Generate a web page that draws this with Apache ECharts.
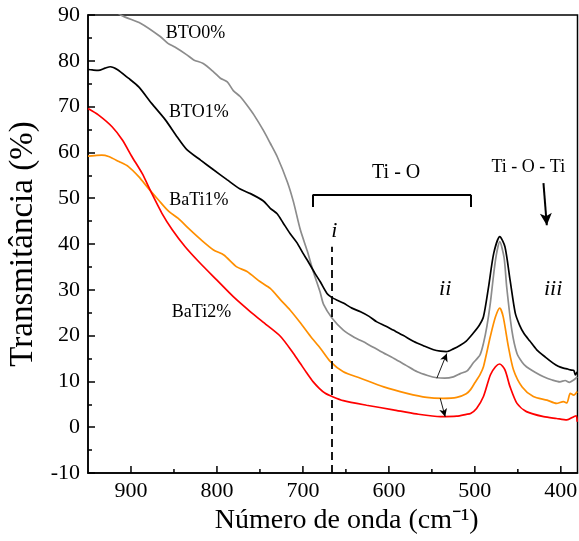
<!DOCTYPE html>
<html><head><meta charset="utf-8">
<script src="https://cdn.jsdelivr.net/npm/echarts@6/dist/echarts.min.js"></script>
<style>html,body{margin:0;padding:0;background:#fff}#c{width:579px;height:541px}</style>
</head><body><div id="c"></div>
<script>
// ---- data: [wavenumber (cm-1), transmittance (%)] ----
const bto0 = [[950,96],[930,93],[912,90],[889,88.2],[866,85.3],[857,83.8],[849,83.0],[835,81.3],[827,80.2],[816,79.4],[804,77.6],[796,76.2],[788,75.4],[781,73.5],[773,72.2],[765,70.3],[757,68.2],[746,64.8],[738,62],[730,59.1],[718,53.5],[711,49.2],[703,43.1],[695,38.5],[688,34],[680,29.5],[676,26.8],[666,23.8],[653,21.2],[640,19.6],[626,18.3],[610,16.6],[594,15.0],[580,13.5],[567,12.1],[555,11.3],[544,10.8],[535,10.7],[525,11.0],[517,11.7],[509,12.3],[502,14.0],[494,15.8],[490,18.3],[486,22],[482,27.1],[476,36.5],[471,40.5],[466,37],[463,30.7],[457,21.2],[451,16.1],[445,14.2],[440,13.2],[430,12.0],[420,11.0],[410,10.3],[401,9.9],[395,10.2],[390,9.8],[385,10.3],[381,11.0]];
const bto1 = [[950,78.1],[945,78.0],[938,77.9],[930,78.4],[924,78.7],[916,78.1],[903,76.2],[891,74.3],[876,70.7],[860,67.1],[846,63.3],[835,60.6],[819,58.3],[804,56.2],[788,54.0],[773,52.0],[761,51.0],[746,49.4],[738,47.8],[730,46.6],[723,44.6],[715,42.3],[707,40.3],[700,38.0],[695,36.5],[686,33.6],[680,31.8],[672,29.2],[667,28.4],[660,27.7],[653,27.1],[643,26.0],[633,25.2],[623,24.2],[614,23.0],[604,22.1],[595,21.2],[583,20.0],[571,18.7],[560,17.8],[548,16.9],[540,16.6],[533,16.5],[525,17.1],[517,17.9],[510,18.8],[502,20.5],[495,22.2],[490,24.1],[484,30.7],[478,38.0],[471,41.6],[465,39.4],[459,32.1],[453,24.9],[448,22.3],[443,20.5],[436,18.8],[428,16.9],[418,15.3],[409,14.0],[403,13.3],[397,12.9],[392,12.7],[389,12.5],[385,12.4],[383,11.4],[381,12.1]];
const bati1 = [[950,59.2],[942,59.3],[934,59.4],[926,59.1],[914,58.0],[903,56.9],[891,54.7],[880,52.2],[868,49.6],[856,47.1],[845,45.6],[833,43.4],[819,41.0],[804,38.7],[792,37.6],[777,35.0],[765,34.0],[750,31.8],[738,30.3],[726,27.8],[715,25.6],[703,22.8],[691,19.8],[680,17.3],[668,14.3],[653,12.1],[633,10.7],[606,8.8],[579,7.4],[556,6.5],[537,6.3],[521,6.5],[510,7.3],[505,8.2],[500,9.7],[494,11.5],[490,13.2],[482,19.8],[476,24.1],[471,26.0],[467,24.1],[461,17.6],[455,12.5],[445,8.8],[432,6.7],[416,5.9],[405,5.2],[397,5.6],[393,5.3],[389,7.4],[385,7.0],[381,7.8]];
const bati2 = [[950,69.6],[938,68.2],[922,65.6],[910,62.7],[899,59.1],[887,55.4],[876,51.1],[864,46.7],[852,43.1],[837,39.4],[820,35.9],[800,32.1],[781,28.5],[761,25.2],[742,22.3],[726,19.8],[711,16.1],[703,13.9],[695,11.7],[688,9.9],[681,8.5],[674,7.4],[666,6.7],[653,5.8],[626,4.8],[595,3.8],[568,2.9],[540,2.3],[521,2.4],[510,2.8],[505,3.0],[498,4.1],[490,6.7],[482,11.4],[476,13.2],[471,13.8],[465,12.5],[459,8.8],[451,5.2],[440,3.4],[420,2.3],[405,1.9],[393,1.6],[385,2.3],[382,2.5],[381,1.2]];

const seriesNames = ['BTO0%','BTO1%','BaTi1%','BaTi2%'];
const seriesColors = ['#8c8c8c','#000000','#ff8f00','#ff0000'];
const xMajorTicks = [400,500,600,700,800,900];
const xMinorTicks = [450,550,650,750,850];
const xRange = [380.6, 950];
const yRange = [-10, 90];

// annotation texts and their data positions
const labelTexts = ['BTO0%','BTO1%','BaTi1%','BaTi2%'];
const labelPos = [[825,86.1],[821,68.8],[821,49.6],[818,25.2]];
const bandTexts = ['Ti - O','Ti - O - Ti'];
const bandPos = [[591.5,55.5],[437.8,56.8]];
const romanTexts = ['i','ii','iii'];
const romanPos = [[663.6,42.8],[534.5,30.1],[409,30.1]];
// bracket, dashed marker, arrows (data coords)
const bracket = {x1:688.8, x2:504.3, y:50.7, yEnd:48.1};
const dashX = 667, dashTop = 39.4;
const bandArrow = [[420.2,53.3],[416.3,44.1]];
const shiftArrows = [[[544.2,10.7],[532.6,16.1]], [[540.3,6.3],[534.5,2.3]]];

const FONT = 'Liberation Serif';
const chart = echarts.init(document.getElementById('c'));

const lineSeries = [bto0, bto1, bati1, bati2].map((d, i) => ({
  type: 'line', name: seriesNames[i], data: d, showSymbol: false, smooth: 0.25,
  clip: true, lineStyle: { color: seriesColors[i], width: 1.7 }, itemStyle: { color: seriesColors[i] },
  z: [2,4,3,3][i]
}));

const annot = {
  type: 'line', data: [], silent: true, z: 5,
  markLine: {
    silent: true, animation: false, symbol: ['none','none'], label: { show: false },
    lineStyle: { color: '#000', width: 2, type: 'solid' },
    emphasis: { disabled: true },
    data: [
      [{ coord: [bracket.x1, bracket.y] }, { coord: [bracket.x2, bracket.y] }],
      [{ coord: [bracket.x1, bracket.y] }, { coord: [bracket.x1, bracket.yEnd] }],
      [{ coord: [bracket.x2, bracket.y] }, { coord: [bracket.x2, bracket.yEnd] }],
      [{ coord: [dashX, yRange[0]], lineStyle: { type: [8, 5], width: 1.8 } }, { coord: [dashX, dashTop] }],
      [{ coord: bandArrow[0], symbol: 'none', lineStyle: { width: 2 } }, { coord: bandArrow[1], symbol: 'arrow', symbolSize: [9, 12] }],
      [{ coord: shiftArrows[0][0], symbol: 'none', lineStyle: { width: 0.9 } }, { coord: shiftArrows[0][1], symbol: 'arrow', symbolSize: [6, 8] }],
      [{ coord: shiftArrows[1][0], symbol: 'none', lineStyle: { width: 0.9 } }, { coord: shiftArrows[1][1], symbol: 'arrow', symbolSize: [6, 8] }]
    ]
  }
};

const axisBase = { color: '#000', fontFamily: FONT };
chart.setOption({
  animation: false,
  backgroundColor: '#fff',
  textStyle: { fontFamily: FONT },
  grid: { left: 88, right: 1.5, top: 15, bottom: 68, show: true, borderColor: '#000', borderWidth: 1.5, backgroundColor: 'transparent', containLabel: false, outerBoundsMode: 'none' },
  xAxis: [{
    type: 'value', inverse: true, min: xRange[0], max: xRange[1], position: 'bottom',
    name: 'Número de onda (cm⁻¹)', nameLocation: 'middle', nameGap: 24,
    nameTextStyle: { ...axisBase, fontSize: 28, padding: [0, 0, 0, 28] },
    axisLine: { show: true, onZero: false, lineStyle: { color: '#000', width: 1.5 } },
    axisTick: { show: false },
    axisLabel: { ...axisBase, fontSize: 22, margin: 7, customValues: xMajorTicks },
    splitLine: { show: false }
  }],
  yAxis: [{
    type: 'value', min: yRange[0], max: yRange[1], interval: 10,
    name: 'Transmitância (%)', nameLocation: 'middle', nameGap: 43,
    nameTextStyle: { ...axisBase, fontSize: 33 },
    axisLine: { show: true, onZero: false, lineStyle: { color: '#000', width: 1.5 } },
    axisTick: { show: true, inside: true, length: 7, lineStyle: { color: '#000', width: 1.5 } },
    minorTick: { show: true, splitNumber: 2, length: 4, lineStyle: { color: '#000', width: 1.5 } },
    axisLabel: { ...axisBase, fontSize: 22, margin: 8 },
    splitLine: { show: false }, minorSplitLine: { show: false }
  }],
  series: [...lineSeries, annot]
});

function px(p) { return chart.convertToPixel({ xAxisIndex: 0, yAxisIndex: 0 }, p); }
const g = [];
// x-axis tick marks (inside), placed through the axis scale
const baseY = px([xRange[1], yRange[0]])[1];
[[xMajorTicks, 7], [xMinorTicks, 4]].forEach(([vals, len]) => vals.forEach(v => {
  const x = px([v, yRange[0]])[0];
  g.push({ type: 'line', z: 20, silent: true, shape: { x1: x, y1: baseY, x2: x, y2: baseY - len }, style: { stroke: '#000', lineWidth: 1.5 } });
}));
labelTexts.forEach((t, i) => { const p = px(labelPos[i]); g.push({ type: 'text', x: p[0], y: p[1], z: 10, style: { text: t, fill: '#000', font: '18px "Liberation Serif"', align: 'center', verticalAlign: 'middle' } }); });
bandTexts.forEach((t, i) => { const p = px(bandPos[i]); g.push({ type: 'text', x: p[0], y: p[1], z: 10, style: { text: t, fill: '#000', font: (i === 0 ? '20px' : '18px') + ' "Liberation Serif"', align: 'center', verticalAlign: 'middle' } }); });
romanTexts.forEach((t, i) => { const p = px(romanPos[i]); g.push({ type: 'text', x: p[0], y: p[1], z: 10, style: { text: t, fill: '#000', font: 'italic 22px "Liberation Serif"', align: 'center', verticalAlign: 'middle' } }); });
chart.setOption({ graphic: g });
</script></body></html>
